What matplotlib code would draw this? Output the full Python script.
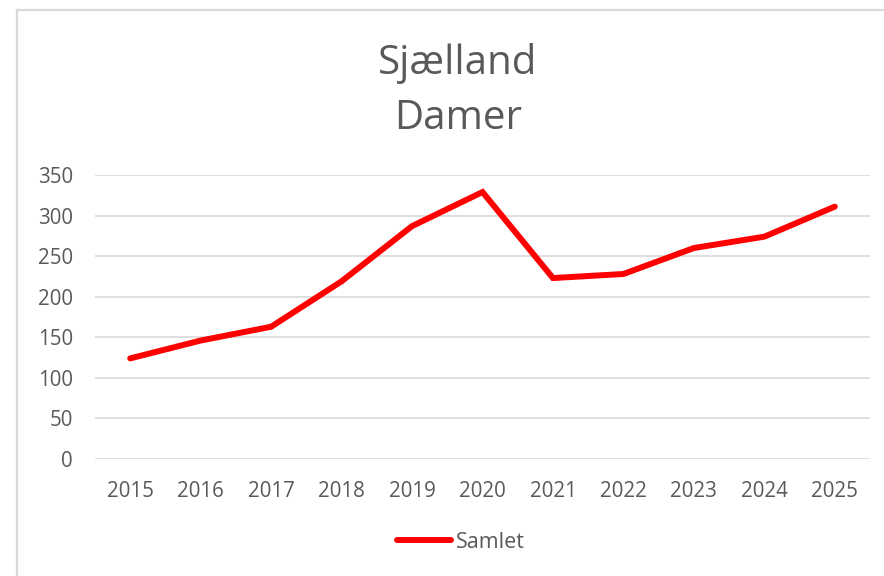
import matplotlib
matplotlib.use('Agg')
import matplotlib.pyplot as plt
from matplotlib.lines import Line2D

# Data
years = ['2015', '2016', '2017', '2018', '2019', '2020', '2021', '2022', '2023', '2024', '2025']
samlet = [124, 146, 163, 219, 287, 329, 223, 228, 260, 274, 311]
yticks = [0, 50, 100, 150, 200, 250, 300, 350]
title_lines = ['Sjælland', 'Damer']
series_name = 'Samlet'

W, H = 884, 576
fig = plt.figure(figsize=(W / 100, H / 100), dpi=100)
fig.patch.set_facecolor('white')

# Chart area border (only left and top edges visible)
fig.add_artist(Line2D([17 / W, 17 / W], [0, 1 - 10 / H], transform=fig.transFigure,
                      color='#D9D9D9', lw=1.6))
fig.add_artist(Line2D([17 / W, 1], [1 - 10 / H, 1 - 10 / H], transform=fig.transFigure,
                      color='#D9D9D9', lw=1.6))

ax = fig.add_axes([95 / W, 1 - 459 / H, (870 - 95) / W, (459 - 175) / H])
x = list(range(len(years)))
ax.plot(x, samlet, color='#FF0000', lw=4.3, solid_capstyle='round', solid_joinstyle='miter')

ax.set_xlim(-0.5, len(years) - 0.5)
ax.set_ylim(0, 350)
ax.set_yticks(yticks)
ax.set_yticklabels([str(v) for v in yticks])
ax.set_xticks(x)
ax.set_xticklabels(years)
ax.grid(axis='y', color='#D9D9D9', lw=1.2)
ax.set_axisbelow(True)
for s in ax.spines.values():
    s.set_visible(False)
ax.tick_params(axis='both', length=0, labelsize=14.8, labelcolor='#595959')
ax.tick_params(axis='y', pad=16)
ax.tick_params(axis='x', pad=16)
for lbl in ax.get_xticklabels() + ax.get_yticklabels():
    lbl.set_fontfamily(['Open Sans', 'DejaVu Sans'])

# Title
fig.text(458 / W, 1 - 64 / H, title_lines[0], ha='center', va='center', fontsize=29,
         color='#595959', family=['Open Sans', 'DejaVu Sans'])
fig.text(458 / W, 1 - 119 / H, title_lines[1], ha='center', va='center', fontsize=29,
         color='#595959', family=['Open Sans', 'DejaVu Sans'])

# Legend
handle = Line2D([], [], color='#FF0000', lw=4.3, solid_capstyle='round')
fig.legend([handle], [series_name], loc='center', bbox_to_anchor=(461 / W, 1 - 542 / H),
           frameon=False, handlelength=2.5, handletextpad=0.25,
           prop={'family': ['Open Sans', 'DejaVu Sans'], 'size': 15.5}, labelcolor='#595959')

fig.savefig('out.png', dpi=100)
